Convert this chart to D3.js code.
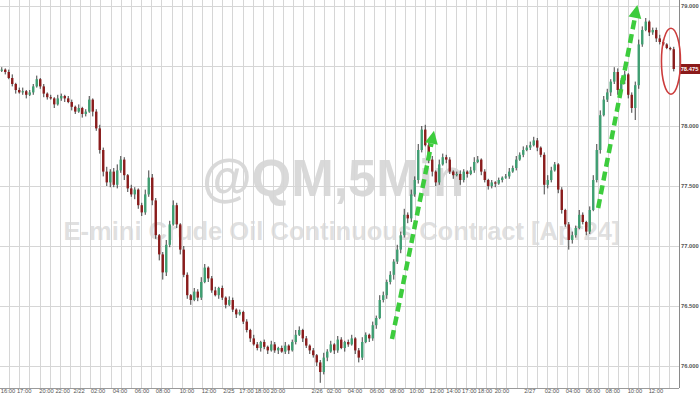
<!DOCTYPE html>
<html>
<head>
<meta charset="utf-8">
<script src="https://cdn.jsdelivr.net/npm/d3@7"></script>
<style>
  html, body { margin: 0; padding: 0; background: #fff; overflow: hidden; }
  svg { display: block; }
</style>
</head>
<body>
<svg id="chart" width="700" height="394"></svg>
<script>
// @QM 5Min - E-mini Crude Oil, closes (one candle ~ 20 min)
const firstOpen = 78.46;
const closes = [
  78.47, 78.45, 78.40, 78.35, 78.30, 78.28, 78.29, 78.26, 78.28, 78.33,
  78.39, 78.33, 78.27, 78.24, 78.23, 78.18, 78.23, 78.25, 78.23, 78.20,
  78.16, 78.12, 78.15, 78.10, 78.12, 78.22, 78.12, 77.98, 77.80, 77.62,
  77.53, 77.62, 77.51, 77.63, 77.72, 77.59, 77.48, 77.43, 77.47, 77.34,
  77.28, 77.43, 77.57, 77.38, 77.09, 76.93, 76.78, 77.01, 77.18, 77.34,
  77.18, 76.97, 76.76, 76.59, 76.55, 76.62, 76.57, 76.70, 76.82, 76.73,
  76.63, 76.59, 76.65, 76.57, 76.51, 76.55, 76.47, 76.43, 76.45, 76.37,
  76.30, 76.23, 76.18, 76.15, 76.20, 76.16, 76.13, 76.18, 76.13, 76.15,
  76.12, 76.17, 76.13, 76.20, 76.26, 76.30, 76.23, 76.17, 76.13, 76.09,
  76.03, 75.95, 76.07, 76.12, 76.18, 76.13, 76.22, 76.15, 76.20, 76.18,
  76.23, 76.13, 76.07, 76.20, 76.26, 76.23, 76.34, 76.40, 76.55, 76.59,
  76.70, 76.76, 76.87, 76.97, 77.09, 77.26, 77.23, 77.43, 77.55, 77.80,
  77.97, 77.84, 77.72, 77.62, 77.53, 77.68, 77.74, 77.72, 77.62, 77.59,
  77.60, 77.55, 77.62, 77.60, 77.63, 77.70, 77.72, 77.62, 77.55, 77.50,
  77.53, 77.52, 77.55, 77.57, 77.58, 77.62, 77.65, 77.72, 77.76, 77.80,
  77.82, 77.84, 77.88, 77.82, 77.76, 77.51, 77.55, 77.63, 77.68, 77.47,
  77.30, 77.18, 77.05, 77.09, 77.15, 77.26, 77.20, 77.12, 77.30, 77.55,
  77.80, 78.09, 78.22, 78.28, 78.37, 78.45, 78.30, 78.38, 78.43, 78.26,
  78.15, 78.34, 78.68, 78.80, 78.87, 78.78, 78.80, 78.73, 78.70, 78.68,
  78.65, 78.64, 78.475
];
// wick lengths above / below the body, in cents
const wickUp = [
  2,1,2,3,1,2,3,1,2,2, 3,1,2,1,2,1,3,2,1,2, 2,1,3,1,2,3,1,2,3,2,
  4,2,3,5,3,2,1,3,2,1, 2,4,6,3,2,1,2,4,3,4, 2,1,3,2,1,3,2,4,3,1,
  2,3,1,2,1,3,2,1,2,1, 2,1,3,2,1,2,1,3,2,1, 2,3,1,2,4,3,1,2,1,2,
  1,2,4,2,3,1,3,2,1,2, 3,1,2,4,2,1,3,2,4,3, 2,3,2,4,3,5,2,4,3,5,
  3,4,2,3,1,4,3,2,2,1, 2,3,2,1,3,4,3,1,2,1, 2,1,2,1,2,3,2,3,2,3,
  2,3,3,2,1,2,4,3,2,1, 2,1,2,3,2,4,2,1,3,4, 5,4,3,3,2,4,3,2,3,1,
  2,3,4,3,3,1,2,2,3,2, 1,1,2
];
const wickDn = [
  1,2,1,2,3,1,2,3,1,2, 1,2,3,2,1,3,1,2,3,1, 3,2,1,3,2,1,4,2,3,4,
  3,4,2,3,2,4,3,2,4,3, 3,2,2,4,3,5,6,3,2,1, 3,4,2,3,4,1,3,2,1,3,
  2,1,3,2,3,1,2,3,1,2, 2,3,1,2,3,2,3,1,2,3, 1,2,3,1,2,1,3,2,3,2,
  3,9,2,3,1,3,2,1,3,2, 1,3,4,2,1,3,2,3,1,2, 3,2,4,2,3,2,4,3,2,3,
  2,1,3,4,3,2,1,3,2,3, 1,4,2,3,1,2,1,3,2,3, 2,3,1,2,1,2,1,2,1,2,
  1,2,1,3,2,8,3,2,1,3, 3,2,8,3,2,1,2,3,2,1, 2,3,1,2,3,2,4,2,3,3,
  4,10,3,2,1,3,2,3,2,1, 1,1,2
];
const lastPrice = 78.475;
const priceTicks = [76, 76.5, 77, 77.5, 78, 78.5, 79];
// time labels and their place, in candle units
const timeLabels = ["16:00","17:00","20:00","22:00","2/22","02:00","04:00","06:00","08:00","10:00","12:00",
  "2/25","17:00","18:00","20:00","2/26","02:00","04:00","06:00","08:00","10:00","12:00",
  "14:00","17:00","18:00","20:00","2/27","02:00","04:00","06:00","08:00","10:00","12:00"];
const timePos = [2.3, 6.9, 13.3, 17.9, 22.6, 28.0, 34.3, 40.6, 46.6, 53.4, 59.7,
  65.4, 70.4, 74.9, 79.4, 90.6, 95.4, 101.4, 107.7, 113.4, 119.1, 124.8,
  129.6, 134.1, 138.6, 143.4, 151.4, 157.7, 163.7, 169.4, 175.1, 181.4, 187.4];
// annotations: [candle, price]
const arrow1 = [[112, 76.225], [124, 77.96]];
const arrow2 = [[170.9, 77.317], [182.1, 79.008]];
const circleAt = [191.7, 78.54];

const W = 679, H = 388;
const svg = d3.select("#chart");

const x = d3.scaleLinear().domain([0, 194]).range([0, W]);
const y = d3.scaleLinear().domain([75.8, 79.05]).range([390, 0]);

const candles = closes.map((c, i) => {
  const o = i === 0 ? firstOpen : closes[i - 1];
  return { i, o, c, h: Math.max(o, c) + wickUp[i] / 100, l: Math.min(o, c) - wickDn[i] / 100 };
});

// watermark
const wm = svg.append("g").attr("font-family", "'Liberation Sans', Arial, sans-serif").attr("font-weight", "bold")
  .attr("text-anchor", "middle");
wm.append("text").attr("x", 333).attr("y", 196).attr("font-size", 51)
  .attr("fill", "#c9c9c9").attr("fill-opacity", 0.7).text("@QM,5Min");
wm.append("text").attr("x", 342).attr("y", 240).attr("font-size", 25.5)
  .attr("fill", "#d2d2d2").attr("fill-opacity", 0.7).text("E-mini Crude Oil Continuous Contract [Apr24]");

// grid
const grid = svg.append("g").attr("stroke", "#d6d6d6").attr("stroke-width", 1).attr("shape-rendering", "crispEdges");
grid.selectAll(".vg").data(d3.range(2.6, 194, 2.9)).join("line")
  .attr("x1", d => Math.round(x(d)) + 0.5).attr("x2", d => Math.round(x(d)) + 0.5)
  .attr("y1", 0).attr("y2", H);
grid.selectAll(".hg").data(priceTicks).join("line")
  .attr("x1", 0).attr("x2", W)
  .attr("y1", d => Math.round(y(d)) + 0.5).attr("y2", d => Math.round(y(d)) + 0.5);

// candles
const cg = svg.append("g");
const bw = 2.4;
cg.selectAll("line").data(candles).join("line")
  .attr("x1", d => x(d.i + 0.5)).attr("x2", d => x(d.i + 0.5))
  .attr("y1", d => y(d.h)).attr("y2", d => y(d.l))
  .attr("stroke", "#2a2a2a").attr("stroke-width", 0.9);
cg.selectAll("rect").data(candles).join("rect")
  .attr("x", d => x(d.i + 0.5) - bw / 2)
  .attr("width", bw)
  .attr("y", d => y(Math.max(d.o, d.c)))
  .attr("height", d => Math.max(1, Math.abs(y(d.o) - y(d.c))))
  .attr("fill", d => d.c >= d.o ? "#3f9e72" : "#8a1c1c");

// axes
svg.append("line").attr("x1", W + 0.5).attr("x2", W + 0.5).attr("y1", 0).attr("y2", H)
  .attr("stroke", "#8a8a8a").attr("shape-rendering", "crispEdges");
svg.append("line").attr("x1", 0).attr("x2", W).attr("y1", H + 0.5).attr("y2", H + 0.5)
  .attr("stroke", "#9a9a9a").attr("shape-rendering", "crispEdges");

const labFont = "'Liberation Sans', Arial, sans-serif";
// the last-price tag covers the tick label next to it
svg.append("g").selectAll("text").data(priceTicks.filter(d => Math.abs(y(d) - y(lastPrice)) > 8)).join("text")
  .attr("x", W + 2).attr("y", d => y(d)).attr("dy", "0.35em")
  .attr("font-family", labFont).attr("font-size", 5.8).attr("font-weight", "bold").attr("fill", "#555")
  .text(d => d3.format(".3f")(d));

svg.append("g").selectAll("text").data(timeLabels).join("text")
  .attr("x", (d, i) => x(timePos[i])).attr("y", 393)
  .attr("text-anchor", "middle")
  .attr("font-family", labFont).attr("font-size", 5.8).attr("fill", "#555")
  .text(d => d);

// last price tag
svg.append("rect").attr("x", W + 1).attr("y", y(lastPrice) - 5).attr("width", 20).attr("height", 10)
  .attr("fill", "#8b1a1a");
svg.append("text").attr("x", W + 10.5).attr("y", y(lastPrice)).attr("dy", "0.35em")
  .attr("text-anchor", "middle").attr("font-family", labFont).attr("font-size", 5.8)
  .attr("font-weight", "bold").attr("fill", "#fff").text(d3.format(".3f")(lastPrice));

// annotations
function drawArrow(pts) {
  const x0 = x(pts[0][0]), y0 = y(pts[0][1]), x1 = x(pts[1][0]), y1 = y(pts[1][1]);
  const ang = Math.atan2(y1 - y0, x1 - x0);
  const len = 13, half = 6.5;
  const bx = x1 - len * Math.cos(ang), by = y1 - len * Math.sin(ang);
  svg.append("line").attr("x1", x0).attr("y1", y0).attr("x2", bx).attr("y2", by)
    .attr("stroke", "#3dcc3d").attr("stroke-width", 4.5).attr("stroke-dasharray", "9,5");
  const px = -Math.sin(ang), py = Math.cos(ang);
  svg.append("path")
    .attr("d", `M${x1},${y1}L${bx + px * half},${by + py * half}L${bx - px * half},${by - py * half}Z`)
    .attr("fill", "#3dcc3d");
}
drawArrow(arrow1);
drawArrow(arrow2);

svg.append("ellipse").attr("cx", x(circleAt[0])).attr("cy", y(circleAt[1]))
  .attr("rx", 9.5).attr("ry", 33)
  .attr("fill", "none").attr("stroke", "#cc3c3c").attr("stroke-width", 1.6);
</script>
</body>
</html>
